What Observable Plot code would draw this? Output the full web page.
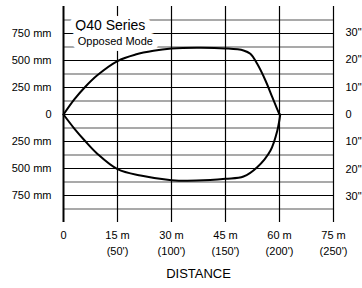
<!DOCTYPE html>
<html>
<head>
<meta charset="utf-8">
<script src="https://cdn.jsdelivr.net/npm/d3@7"></script>
<script src="https://cdn.jsdelivr.net/npm/@observablehq/plot@0.6"></script>
<style>
  html, body { margin: 0; padding: 0; background: #fff; }
  #chart { width: 362px; height: 288px; }
</style>
</head>
<body>
<div id="chart"></div>
<script>
// Beam pattern (distance in m, beam half-width in mm)
const distUpper  = [0, 3, 6, 9.3, 15, 20, 25, 30, 37, 45, 50, 51.9, 53.8, 56.1, 58, 59.3, 60];
const rangeUpper = [0, 140, 255, 361, 495, 555, 590, 610, 618, 612, 593, 562, 469, 315, 160, 55, 0];
const distLower  = [0, 3, 6, 9.3, 15, 21.4, 30, 37, 45, 50, 53.8, 57.5, 59.4, 60.2];
const rangeLower = [0, -130, -245, -360, -505, -565, -608, -612, -595, -574, -488, -333, -148, 0];

// Axis ticks
const distTicks = [0, 15, 30, 45, 60, 75];
const distTickLabels = ["0", "15 m\n(50')", "30 m\n(100')", "45 m\n(150')", "60 m\n(200')", "75 m\n(250')"];
const mmTicks = [-750, -500, -250, 0, 250, 500, 750];
const mmTickLabels = ["750 mm", "500 mm", "250 mm", "0", "250 mm", "500 mm", "750 mm"];
const minorLines = [-875, -625, -375, -125, 125, 375, 625, 875];
const inchTicks = [-30, -20, -10, 0, 10, 20, 30];
const inchTickLabels = ["30\"", "20\"", "10\"", "0", "10\"", "20\"", "30\""];

// Annotation
const titleLines = ["Q40 Series", "Opposed Mode"];
const titleX = [13, 14.4];
const titleY = [825, 678];
const titleSizes = [14, 11];

const upper = distUpper.map((d, i) => ({d, r: rangeUpper[i]}));
const lower = distLower.map((d, i) => ({d, r: rangeLower[i]}));
const titles = titleLines.map((t, i) => ({t, x: titleX[i], y: titleY[i], s: titleSizes[i]}));
const mmLabelMap = new Map(mmTicks.map((v, i) => [v, mmTickLabels[i]]));
const inchPos = inchTicks.map(v => v * 25.4);
const inchLabelMap = new Map(inchPos.map((v, i) => [v, inchTickLabels[i]]));
const distLabelMap = new Map(distTicks.map((v, i) => [v, distTickLabels[i]]));

const chart = Plot.plot({
  width: 362,
  height: 288,
  marginLeft: 63,
  marginRight: 29,
  marginTop: 6,
  marginBottom: 66,
  style: {fontFamily: "'Liberation Sans', Arial, sans-serif", fontSize: "11px", color: "#000", background: "#fff"},
  x: {domain: [0, 75]},
  y: {domain: [-1000, 1000]},
  marks: [
    Plot.ruleY(minorLines, {stroke: "#8c8c8c", strokeWidth: 1.6}),
    Plot.ruleY(mmTicks, {stroke: "#000", strokeWidth: 1.1}),
    Plot.ruleX(distTicks, {y1: -1000, y2: 1000, stroke: "#000", strokeWidth: d => d === 0 ? 2 : 1.2}),
    Plot.text(titles, {
      x: "x", y: "y", text: "t", fontSize: "s",
      fill: "#000", stroke: "#fff", strokeWidth: 12, strokeLinejoin: "round", paintOrder: "stroke"
    }),
    Plot.line(upper, {x: "d", y: "r", curve: "catmull-rom", stroke: "#000", strokeWidth: 2}),
    Plot.line(lower, {x: "d", y: "r", curve: "catmull-rom", stroke: "#000", strokeWidth: 2}),
    Plot.axisY(mmTicks, {anchor: "left", tickSize: 0, tickPadding: 12, tickFormat: v => mmLabelMap.get(v), label: null, fontSize: 11}),
    Plot.axisY(inchPos, {anchor: "right", tickSize: 0, tickPadding: 12, tickFormat: v => inchLabelMap.get(v), label: null, fontSize: 11}),
    Plot.axisX(distTicks, {anchor: "bottom", tickSize: 0, tickPadding: 5, tickFormat: v => distLabelMap.get(v), label: null, fontSize: 11, lineHeight: 1.45}),
    Plot.text(["DISTANCE"], {frameAnchor: "bottom", dy: 55, fontSize: 13, fill: "#000"})
  ]
});
document.getElementById("chart").appendChild(chart);
</script>
</body>
</html>
